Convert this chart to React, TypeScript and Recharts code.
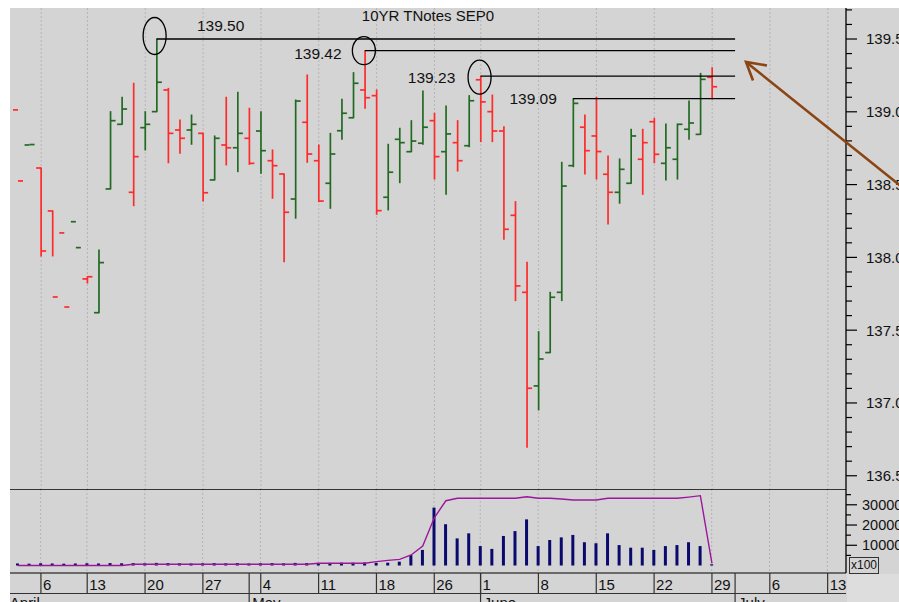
import React from 'react';
import { Bar, ComposedChart, Line, ReferenceDot, ReferenceLine, XAxis, YAxis } from 'recharts';

// trading days (2020), Apr 2 .. Jul 14; only Apr 2 .. Jun 29 carry prices
const dates = [
  '04-02', '04-03', '04-06', '04-07', '04-08', '04-09', '04-13', '04-14', '04-15', '04-16',
  '04-17', '04-20', '04-21', '04-22', '04-23', '04-24', '04-27', '04-28', '04-29', '04-30',
  '05-01', '05-04', '05-05', '05-06', '05-07', '05-08', '05-11', '05-12', '05-13', '05-14',
  '05-15', '05-18', '05-19', '05-20', '05-21', '05-22', '05-26', '05-27', '05-28', '05-29',
  '06-01', '06-02', '06-03', '06-04', '06-05', '06-08', '06-09', '06-10', '06-11', '06-12',
  '06-15', '06-16', '06-17', '06-18', '06-19', '06-22', '06-23', '06-24', '06-25', '06-26',
  '06-29', '06-30', '07-01', '07-02', '07-03', '07-06', '07-07', '07-08', '07-09', '07-10',
  '07-13', '07-14',
];

const opens = [
  139.013, 138.772, 138.614, 138.319, 138.168, 138.245, 137.852, 137.62, 138.47, 138.914,
  138.447, 138.891, 139.001, 139.15, 138.875, 138.875, 138.852, 138.532, 138.772, 138.753,
  138.818, 138.868, 138.664, 138.573, 138.401, 138.928, 138.664, 138.509, 138.87, 138.959,
  139.15, 139.111, 138.413, 138.811, 138.726, 138.784, 138.939, 138.726, 138.788, 138.767,
  139.22, 139.001, 138.868, 138.289, 137.76, 137.117, 137.346, 137.76, 138.63, 138.894,
  138.834, 138.571, 138.447, 138.509, 138.674, 138.932, 138.646, 138.674, 138.88, 138.845,
  139.237,
];

const highs = [
  null, null, 138.614, 138.319, null, null, 137.867, 138.051, 139.001, 139.1,
  139.196, 139.001, 139.5, 139.161, 138.944, 138.978, 138.852, 138.834, 139.1, 139.134,
  139.024, 139.001, 138.738, 138.573, 139.081, 139.253, 138.772, 138.852, 139.086, 139.269,
  139.42, 139.15, 138.777, 138.887, 138.939, 139.143, 138.99, 139.04, 138.939, 139.111,
  139.245, 139.115, 138.898, 138.383, 137.966, 137.49, 137.76, 138.653, 139.09, 138.978,
  139.1, 138.696, 138.676, 138.88, 138.88, 138.955, 138.916, 138.916, 139.074, 139.264,
  139.303,
];

const lows = [
  null, null, 138.01, 138.01, null, null, 137.824, 137.62, 138.47, 138.914,
  138.355, 138.738, 139.001, 138.65, 138.715, 138.777, 138.387, 138.532, 138.635, 138.589,
  138.639, 138.578, 138.406, 137.97, 138.269, 138.653, 138.383, 138.337, 138.811, 138.959,
  139.024, 138.296, 138.326, 138.513, 138.726, 138.777, 138.538, 138.433, 138.593, 138.76,
  138.795, 138.795, 138.124, 137.703, 136.696, 136.952, 137.346, 137.703, 138.623, 138.573,
  138.538, 138.229, 138.372, 138.509, 138.433, 138.65, 138.532, 138.538, 138.811, 138.845,
  139.088,
];

const closes = [
  138.525, 138.775, 138.044, 137.728, 137.659, 138.067, 137.867, 137.964, 138.939, 139.019,
  138.692, 138.914, 139.203, 138.852, 138.818, 138.914, 138.444, 138.818, 138.753, 138.852,
  138.646, 138.733, 138.63, 138.31, 139.074, 138.71, 138.387, 138.71, 138.99, 139.196,
  139.097, 138.321, 138.585, 138.788, 138.799, 138.894, 138.692, 138.848, 138.664, 139.076,
  139.068, 138.868, 138.193, 137.804, 137.101, 137.302, 137.726, 138.49, 139.058, 138.733,
  138.727, 138.447, 138.605, 138.834, 138.788, 138.708, 138.753, 138.914, 138.923, 139.223,
  139.172,
];

// volume and open interest, in hundreds of contracts
const volumes = [
  1000, 900, 1100, 1000, 900, 1000, 1100, 1000, 1200, 1100,
  1200, 1100, 1300, 1200, 1100, 1000, 1100, 1200, 1100, 1200,
  1000, 1100, 1200, 1100, 1300, 1200, 1200, 1300, 1400, 1400,
  1500, 1300, 1400, 1900, 5200, 7700, 28600, 20400, 13400, 15900,
  9600, 8200, 14600, 17000, 22800, 9600, 12600, 13900, 15100, 11500,
  11000, 15900, 10100, 8800, 8800, 7700, 9600, 10100, 11500, 9600,
  600,
];

const openInterest = [
  0, 0, 0, 0, 0, 0, 0, 0, 0, 0,
  600, 600, 600, 600, 600, 600, 600, 600, 600, 600,
  600, 600, 600, 600, 600, 600, 1100, 1100, 1100, 1100,
  1100, 1900, 2550, 3050, 5200, 9650, 23600, 32000, 33200, 33200,
  33200, 33200, 33200, 33200, 34000, 33200, 33200, 32850, 32400, 32400,
  32400, 33200, 33200, 33200, 33200, 33200, 33200, 33200, 33800, 34500,
  1000,
];

const priceTicks = [
  136.5, 136.6, 136.7, 136.8, 136.9, 137, 137.1, 137.2, 137.3, 137.4, 137.5, 137.6, 137.7,
  137.8, 137.9, 138, 138.1, 138.2, 138.3, 138.4, 138.5, 138.6, 138.7, 138.8, 138.9, 139,
  139.1, 139.2, 139.3, 139.4, 139.5, 139.6, 139.7,
];
const priceLabels = ['136.5', '137.0', '137.5', '138.0', '138.5', '139.0', '139.5'];
const volumeTicks = [5000, 10000, 15000, 20000, 25000, 30000, 35000];
const volumeLabels = ['10000', '20000', '30000'];

const weekStarts = [
  '04-06', '04-13', '04-20', '04-27', '05-04', '05-11', '05-18', '05-26',
  '06-01', '06-08', '06-15', '06-22', '06-29', '07-06', '07-13',
];
const weekLabels = ['6', '13', '20', '27', '4', '11', '18', '26', '1', '8', '15', '22', '29', '6', '13'];
const monthStarts = ['04-02', '05-01', '06-01', '07-01'];
const monthLabels = ['April', 'May', 'June', 'July'];

const levelLines = [
  { from: '04-21', price: 139.5, label: '139.50' },
  { from: '05-15', price: 139.42, label: '139.42' },
  { from: '06-01', price: 139.245, label: '139.23' },
  { from: '06-11', price: 139.09, label: '139.09' },
];
const levelEnd = '07-01';
const levelStyles = [
  { dx: 64, dy: -14, ring: { dx: -2, dy: -3, rx: 11.5, ry: 18.5 } },
  { dx: -47, dy: 3, ring: { dx: -1, dy: 0, rx: 11.5, ry: 14 } },
  { dx: -49, dy: 1, ring: { dx: -1, dy: 1, rx: 11.5, ry: 17 } },
  { dx: -40, dy: 0, ring: null },
];

const PRICE_DOMAIN = [136.409, 139.713];
const VOLUME_DOMAIN = [-3700, 37800];

const FONT = '"Liberation Sans", Arial, sans-serif';
const BG = '#d4d4d4';
const UP = '#226a22';
const DOWN = '#ff2a2a';
const GRID = '#b5b5b5';

const table = dates.map((date, i) => {
  const o = opens[i];
  const c = closes[i];
  const has = o !== undefined;
  const vals = has ? ([o, c, highs[i], lows[i]].filter((v) => v != null) as number[]) : [];
  const monday = weekStarts.includes(date);
  return {
    date,
    open: has ? o : null,
    close: has ? c : null,
    high: has ? highs[i] : null,
    low: has ? lows[i] : null,
    range: has ? [Math.min(...vals), Math.max(...vals)] : null,
    up: has ? (i === 0 ? c >= o : c >= closes[i - 1]) : false,
    vol: volumes[i] ?? null,
    oi: openInterest[i] ?? null,
    gridP: monday ? PRICE_DOMAIN : null,
    gridV: monday ? VOLUME_DOMAIN : null,
  };
});

const axisTicks = dates.filter((d) => weekStarts.includes(d) || monthStarts.includes(d));

const GridShape = (props: any) => {
  const { x, y, width, height } = props;
  if (x == null || !height) return null;
  const cx = x + width / 2;
  const y0 = Math.min(y, y + height);
  return <line x1={cx} x2={cx} y1={y0} y2={y0 + Math.abs(height)} stroke={GRID} strokeWidth={1} strokeDasharray="2 2" />;
};

const OhlcShape = (props: any) => {
  const { x, y, width, height, payload } = props;
  if (!payload || payload.open == null || !payload.range) return null;
  const [bot, top] = payload.range;
  const y0 = Math.min(y, y + height);
  const k = top > bot ? Math.abs(height) / (top - bot) : 0;
  const py = (v: number) => y0 + (top - v) * k;
  const cx = x + width / 2;
  const col = payload.up ? UP : DOWN;
  const sw = 1.7;
  return (
    <g>
      {payload.high != null && (
        <line x1={cx} x2={cx} y1={py(payload.high) - 0.5} y2={py(payload.low) + 0.5} stroke={col} strokeWidth={sw} />
      )}
      <line x1={cx - 5} x2={cx} y1={py(payload.open)} y2={py(payload.open)} stroke={col} strokeWidth={sw} />
      <line x1={cx} x2={cx + 5} y1={py(payload.close)} y2={py(payload.close)} stroke={col} strokeWidth={sw} />
    </g>
  );
};

const VolumeShape = (props: any) => {
  const { x, y, width, height } = props;
  if (x == null || !height) return null;
  const y0 = Math.min(y, y + height);
  return <rect x={x} y={y0} width={width} height={Math.abs(height)} fill="#0a0a6e" />;
};

const PriceTick = (p: any) => {
  const { x, payload } = p;
  const y = payload.coordinate ?? p.y;
  const text = priceLabels.find((s) => Math.abs(parseFloat(s) - payload.value) < 1e-6);
  return (
    <g>
      <line x1={x} x2={x + (text ? 11 : 6)} y1={y} y2={y} stroke="#000" strokeWidth={1.2} />
      {text && (
        <text x={x + 20} y={y} dy="0.36em" fontSize={15} fontFamily={FONT} fill="#111">
          {text}
        </text>
      )}
    </g>
  );
};

const VolumeTick = (p: any) => {
  const { x, payload } = p;
  const y = payload.coordinate ?? p.y;
  const text = volumeLabels.find((s) => Number(s) === payload.value);
  return (
    <g>
      <line x1={x} x2={x + (text ? 11 : 5)} y1={y} y2={y} stroke="#000" strokeWidth={1.2} />
      {text && (
        <text x={x + 16} y={y} dy="0.36em" fontSize={14.5} fontFamily={FONT} fill="#111">
          {text}
        </text>
      )}
    </g>
  );
};

const DateTick = (p: any) => {
  const { x, y, payload } = p;
  const wi = weekStarts.indexOf(payload.value);
  const mi = monthStarts.indexOf(payload.value);
  return (
    <g>
      {wi >= 0 && <line x1={x} x2={x} y1={y} y2={y + 20} stroke="#333" strokeWidth={1.2} />}
      {wi >= 0 && (
        <text x={x + 2} y={y + 17} fontSize={15} fontFamily={FONT} fill="#111">
          {weekLabels[wi]}
        </text>
      )}
      {mi > 0 && <line x1={x} x2={x} y1={y} y2={y + 30} stroke="#333" strokeWidth={1.2} />}
      {mi >= 0 && (
        <text x={mi === 0 ? x - 8 : x + 3} y={y + 35} fontSize={15} fontFamily={FONT} fill="#111">
          {monthLabels[mi]}
        </text>
      )}
    </g>
  );
};

const levelMark = (i: number) => (p: any) => {
  const { cx, cy } = p;
  if (cx == null || cy == null) return null;
  const s = levelStyles[i];
  return (
    <g>
      {s.ring && (
        <ellipse cx={cx + s.ring.dx} cy={cy + s.ring.dy} rx={s.ring.rx} ry={s.ring.ry} fill="none" stroke="#000" strokeWidth={1.3} />
      )}
      <text x={cx + s.dx} y={cy + s.dy} dy="0.36em" textAnchor="middle" fontSize={15.5} fontFamily={FONT} fill="#111">
        {levelLines[i].label}
      </text>
    </g>
  );
};

const CHART_W = 891;
const PAD = { left: 2, right: 1 };
const MARGIN = { top: 0, right: 0, bottom: 0, left: 2 };

export default function App() {
  return (
    <div style={{ position: 'absolute', left: 8, top: 8, width: CHART_W, height: 594, overflow: 'hidden' }}>
      <style>{'html,body{margin:0;overflow:hidden}'}</style>
      <div style={{ position: 'absolute', left: 2, top: 0, right: 0, bottom: 0, background: BG }} />
      <div style={{ position: 'absolute', left: 839, top: 566, right: 0, bottom: 0, background: '#dddddd' }} />

      <div style={{ position: 'absolute', left: 0, top: 0 }}>
        <ComposedChart width={CHART_W} height={481} data={table} margin={MARGIN} barSize={4} barGap={-4}>
          <XAxis dataKey="date" hide padding={PAD} />
          <YAxis
            orientation="right"
            width={53}
            domain={PRICE_DOMAIN}
            allowDataOverflow
            ticks={priceTicks}
            interval={0}
            tickSize={0}
            tickMargin={0}
            tickLine={false}
            axisLine={{ stroke: '#000', strokeWidth: 1.3 }}
            tick={PriceTick}
          />
          <Bar dataKey="gridP" shape={GridShape} isAnimationActive={false} />
          <Bar dataKey="range" shape={OhlcShape} isAnimationActive={false} />
          {levelLines.map((l) => (
            <ReferenceLine
              key={'l' + l.label}
              segment={[{ x: l.from, y: l.price }, { x: levelEnd, y: l.price }]}
              stroke="#000"
              strokeWidth={1.3}
            />
          ))}
          {levelLines.map((l, i) => (
            <ReferenceDot key={'d' + l.label} x={l.from} y={l.price} r={12} shape={levelMark(i)} />
          ))}
        </ComposedChart>
      </div>

      <div style={{ position: 'absolute', left: 0, top: 481 }}>
        <ComposedChart width={CHART_W} height={113} data={table} margin={MARGIN} barSize={3} barGap={-3}>
          <XAxis
            dataKey="date"
            height={29}
            padding={PAD}
            ticks={axisTicks}
            interval={0}
            tickSize={0}
            tickMargin={0}
            tickLine={false}
            axisLine={{ stroke: '#000', strokeWidth: 1.2 }}
            tick={DateTick}
          />
          <YAxis
            orientation="right"
            width={53}
            domain={VOLUME_DOMAIN}
            allowDataOverflow
            ticks={volumeTicks}
            interval={0}
            tickSize={0}
            tickMargin={0}
            tickLine={false}
            axisLine={{ stroke: '#000', strokeWidth: 1.3 }}
            tick={VolumeTick}
          />
          <Bar dataKey="gridV" shape={GridShape} isAnimationActive={false} />
          <Bar dataKey="vol" shape={VolumeShape} isAnimationActive={false} />
          <ReferenceLine y={VOLUME_DOMAIN[1]} stroke="#000" strokeWidth={1.3} />
          <Line dataKey="oi" type="linear" stroke="#9b179b" strokeWidth={1.4} dot={false} isAnimationActive={false} />
        </ComposedChart>
      </div>

      <div style={{ position: 'absolute', left: 2, top: 585, width: 836, borderTop: '1px solid #333' }} />
      <div
        style={{
          position: 'absolute', left: 841, top: 549, width: 28, height: 15, border: '1px solid #333',
          fontFamily: FONT, fontSize: 12, lineHeight: '15px', textAlign: 'center', color: '#111', background: BG,
        }}
      >
        x100
      </div>

      <svg width={CHART_W} height={594} style={{ position: 'absolute', left: 0, top: 0, pointerEvents: 'none' }}>
        <text x={420} y={12.5} textAnchor="middle" fontSize={15} fontFamily={FONT} fill="#111">
          10YR TNotes SEP0
        </text>
        <line x1={899} x2={738} y1={183} y2={54} stroke="#8b4513" strokeWidth={2.6} />
        <polyline points="759,57.5 738,54 745,72.5" fill="none" stroke="#8b4513" strokeWidth={2.6} strokeLinejoin="miter" />
      </svg>
    </div>
  );
}
